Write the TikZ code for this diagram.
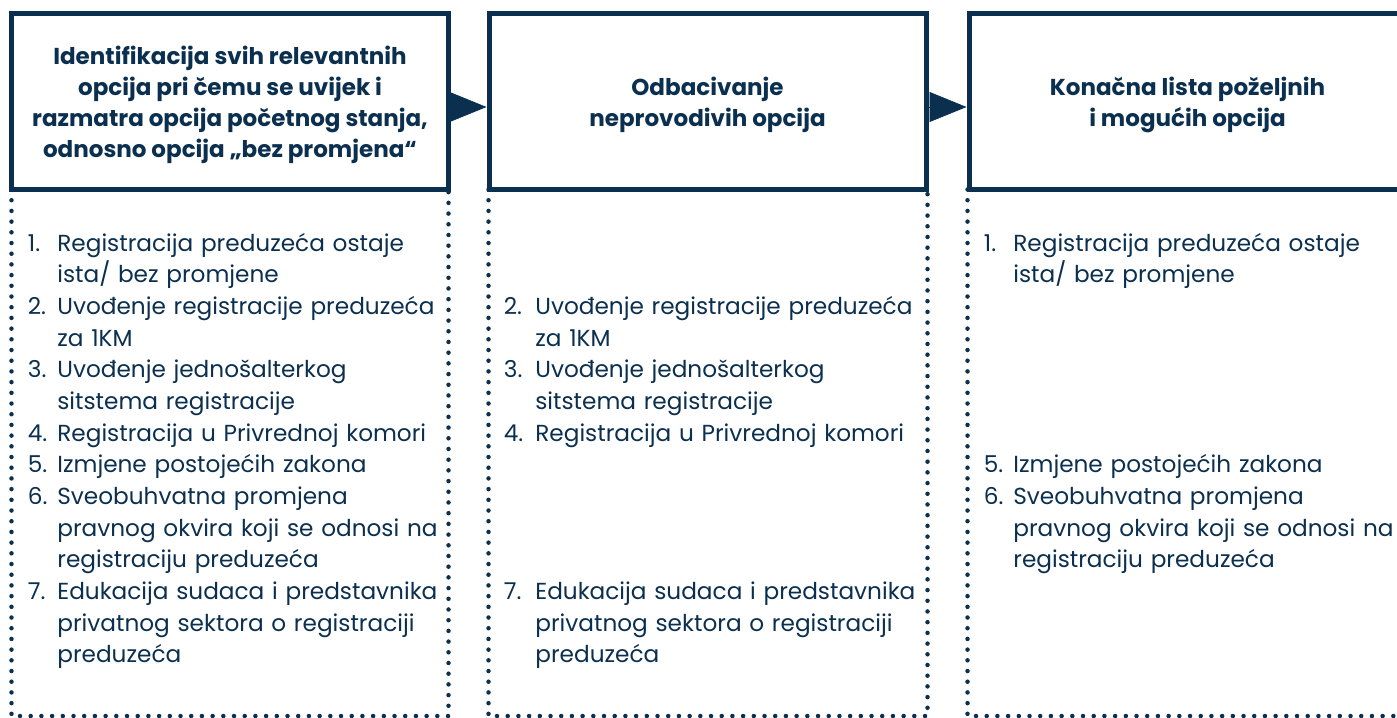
\documentclass[tikz,border=0pt]{standalone}
\usepackage{fontspec}
\setmainfont{Poppins}
\usetikzlibrary{arrows.meta}
\definecolor{optnavy}{HTML}{0B2F4F}

\begin{document}
\begin{tikzpicture}[
  stage/.style={rectangle, draw=optnavy, fill=white, line width=0.1cm, minimum width=8.74cm, minimum height=3.52cm, text depth=0pt, font=\fontsize{13.1}{17.6}\selectfont\bfseries, text=optnavy, align=center},
  num/.style={anchor=base west, inner sep=0pt, font=\fontsize{13.2}{18}\selectfont, text=optnavy},
  opt/.style={anchor=base west, inner sep=0pt, text width=8cm, font=\fontsize{13.2}{18}\selectfont, text=optnavy, align=left},
  dotcol/.style={optnavy, line width=0.09cm, line cap=round, dash pattern=on 0pt off 0.214cm},
  arr/.style={-{Triangle[length=0.74cm, width=0.6cm]}, line width=0.4pt, #1},
]
  \path[use as bounding box, clip] (0,0) rectangle (27.94,-14.34);

  % Dotted columns under the headers
  \draw[dotcol] (0.23,-3.79) rectangle (8.97,-14.32);
  \draw[dotcol] (9.77,-3.79) rectangle (18.55,-14.32);
  \draw[dotcol] (19.35,-3.79) rectangle (28.15,-14.32);

  % Headers
  \node[stage] (ident) at (4.6,-2.03) {Identifikacija svih relevantnih\\opcija pri čemu se uvijek i\\razmatra opcija početnog stanja,\\odnosno opcija „bez promjena“};
  \node[stage] (odbac) at (14.15,-2.03) {Odbacivanje\\neprovodivih opcija};
  \node[stage] (konac) at (23.75,-2.03) {Konačna lista poželjnih\\i mogućih opcija};

  % All options
  \node[num] (i1n) at (0.55,-5.02) {1.};
  \node[opt] (i1) at (1.14,-5.02) {Registracija preduzeća ostaje\\ista/ bez promjene};
  \node[num] (i2n) at (0.55,-6.288) {2.};
  \node[opt] (i2) at (1.14,-6.288) {Uvođenje registracije preduzeća\\za 1KM};
  \node[num] (i3n) at (0.55,-7.556) {3.};
  \node[opt] (i3) at (1.14,-7.556) {Uvođenje jednošalterkog\\sitstema registracije};
  \node[num] (i4n) at (0.55,-8.824) {4.};
  \node[opt] (i4) at (1.14,-8.824) {Registracija u Privrednoj komori};
  \node[num] (i5n) at (0.55,-9.458) {5.};
  \node[opt] (i5) at (1.14,-9.458) {Izmjene postojećih zakona};
  \node[num] (i6n) at (0.55,-10.092) {6.};
  \node[opt] (i6) at (1.14,-10.092) {Sveobuhvatna promjena\\pravnog okvira koji se odnosi na\\registraciju preduzeća};
  \node[num] (i7n) at (0.55,-11.994) {7.};
  \node[opt] (i7) at (1.14,-11.994) {Edukacija sudaca i predstavnika\\privatnog sektora o registraciji\\preduzeća};

  % Dropped options
  \node[num] (o2n) at (10.07,-6.288) {2.};
  \node[opt] (o2) at (10.7,-6.288) {Uvođenje registracije preduzeća\\za 1KM};
  \node[num] (o3n) at (10.07,-7.556) {3.};
  \node[opt] (o3) at (10.7,-7.556) {Uvođenje jednošalterkog\\sitstema registracije};
  \node[num] (o4n) at (10.07,-8.824) {4.};
  \node[opt] (o4) at (10.7,-8.824) {Registracija u Privrednoj komori};
  \node[num] (o7n) at (10.07,-11.994) {7.};
  \node[opt] (o7) at (10.7,-11.994) {Edukacija sudaca i predstavnika\\privatnog sektora o registraciji\\preduzeća};

  % Final list
  \node[num] (k1n) at (19.67,-5.02) {1.};
  \node[opt] (k1) at (20.26,-5.02) {Registracija preduzeća ostaje\\ista/ bez promjene};
  \node[num] (k5n) at (19.67,-9.458) {5.};
  \node[opt] (k5) at (20.26,-9.458) {Izmjene postojećih zakona};
  \node[num] (k6n) at (19.67,-10.092) {6.};
  \node[opt] (k6) at (20.26,-10.092) {Sveobuhvatna promjena\\pravnog okvira koji se odnosi na\\registraciju preduzeća};

  % Arrows
  \draw[arr=optnavy] ([xshift=-0.1cm, yshift=-0.11cm]ident.east) -- ([yshift=-0.11cm]odbac.west);
  \draw[arr=optnavy] ([xshift=-0.1cm, yshift=-0.11cm]odbac.east) -- ([yshift=-0.11cm]konac.west);
\end{tikzpicture}
\end{document}
